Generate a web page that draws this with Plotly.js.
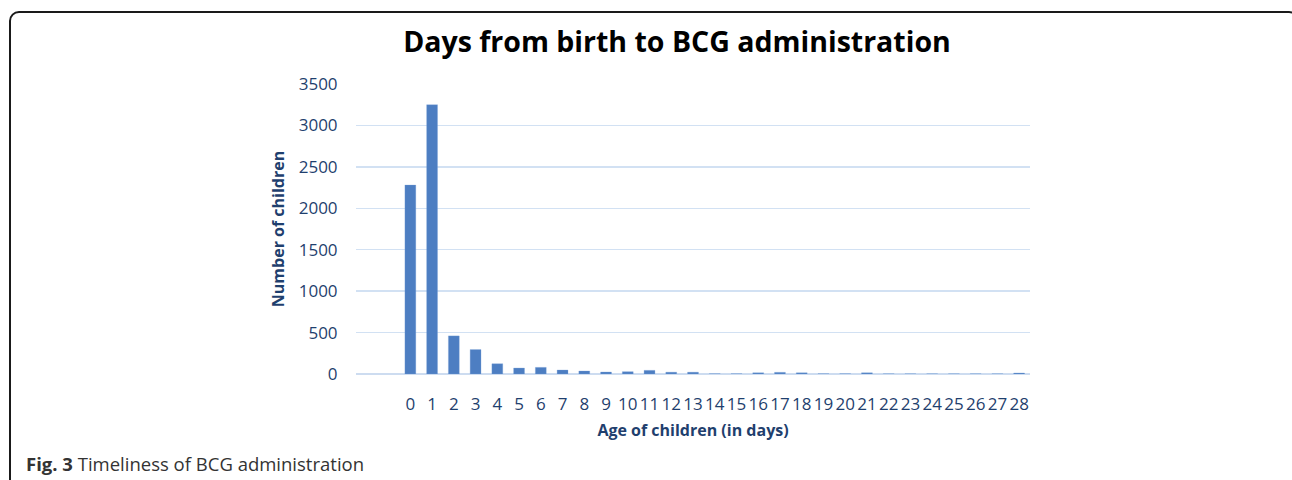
<!DOCTYPE html>
<html>
<head>
<meta charset="utf-8">
<script src="https://cdn.plot.ly/plotly-3.0.1.min.js"></script>
<style>
  html, body { margin: 0; padding: 0; background: #fff; }
  #wrap { position: relative; width: 1292px; height: 480px; overflow: hidden; }
  #frame { position: absolute; left: 9px; top: 11px; width: 1290px; height: 520px;
           border: 2px solid #1a1a1a; border-radius: 10px; box-sizing: border-box; pointer-events: none; }
  #chart { position: absolute; left: 0; top: 0; width: 1292px; height: 480px; }
</style>
</head>
<body>
<div id="wrap">
  <div id="chart"></div>
  <div id="frame"></div>
</div>
<script>
const days = [0,1,2,3,4,5,6,7,8,9,10,11,12,13,14,15,16,17,18,19,20,21,22,23,24,25,26,27,28];
const children = [2280,3250,460,295,124,72,80,48,36,24,28,44,22,22,3,3,15,20,15,3,3,15,2,2,2,2,2,2,12];
const yTicks = [0,500,1000,1500,2000,2500,3000,3500];

const textBlue = '#1f3f6e';

const trace = {
  type: 'bar',
  x: days,
  y: children,
  width: 0.5,
  marker: { color: '#4d7ec2', line: { color: 'rgba(120,160,215,0.6)', width: 0.5 } },
  hoverinfo: 'x+y'
};

const layout = {
  width: 1292,
  height: 480,
  margin: { l: 356, r: 262, t: 84, b: 106, pad: 0 },
  paper_bgcolor: '#ffffff',
  plot_bgcolor: '#ffffff',
  showlegend: false,
  title: {
    text: 'Days from birth to BCG administration',
    font: { family: 'Open Sans, sans-serif', size: 28.5, color: '#000000', weight: 'bold' },
    x: 677 / 1292, xref: 'container', xanchor: 'center',
    y: 1 - 42 / 480, yref: 'container', yanchor: 'middle'
  },
  xaxis: {
    type: 'linear',
    range: [-2.5, 28.5],
    tickmode: 'array',
    tickvals: days,
    ticktext: days.map(String),
    showgrid: false,
    zeroline: false,
    showline: false,
    ticks: 'outside',
    ticklen: 15,
    tickcolor: 'rgba(0,0,0,0)',
    tickfont: { family: 'Open Sans, sans-serif', size: 17, color: textBlue },
    fixedrange: true,
    title: {
      text: 'Age of children (in days)',
      font: { family: 'Open Sans, sans-serif', size: 16, color: textBlue, weight: 'bold' },
      standoff: 10
    }
  },
  yaxis: {
    range: [0, 3500],
    tickmode: 'array',
    tickvals: yTicks,
    ticktext: yTicks.map(String),
    showgrid: true,
    gridcolor: '#d2e1f3',
    gridwidth: 1.5,
    zeroline: true,
    zerolinecolor: '#cddcf0',
    zerolinewidth: 1.5,
    showline: false,
    ticks: 'outside',
    ticklen: 14,
    tickcolor: 'rgba(0,0,0,0)',
    tickfont: { family: 'Open Sans, sans-serif', size: 17, color: textBlue },
    fixedrange: true,
    title: {
      text: 'Number of children',
      font: { family: 'Open Sans, sans-serif', size: 16, color: textBlue, weight: 'bold' },
      standoff: 10
    }
  },
  annotations: [
    {
      text: '<b>Fig. 3</b> Timeliness of BCG administration',
      xref: 'paper', yref: 'paper',
      x: (24 - 356) / 674, y: (374 - 463) / 290,
      xanchor: 'left', yanchor: 'middle',
      showarrow: false,
      font: { family: 'Open Sans, sans-serif', size: 18.5, color: '#333333' }
    }
  ]
};

Plotly.newPlot('chart', [trace], layout, { displayModeBar: false, staticPlot: true });
</script>
</body>
</html>
